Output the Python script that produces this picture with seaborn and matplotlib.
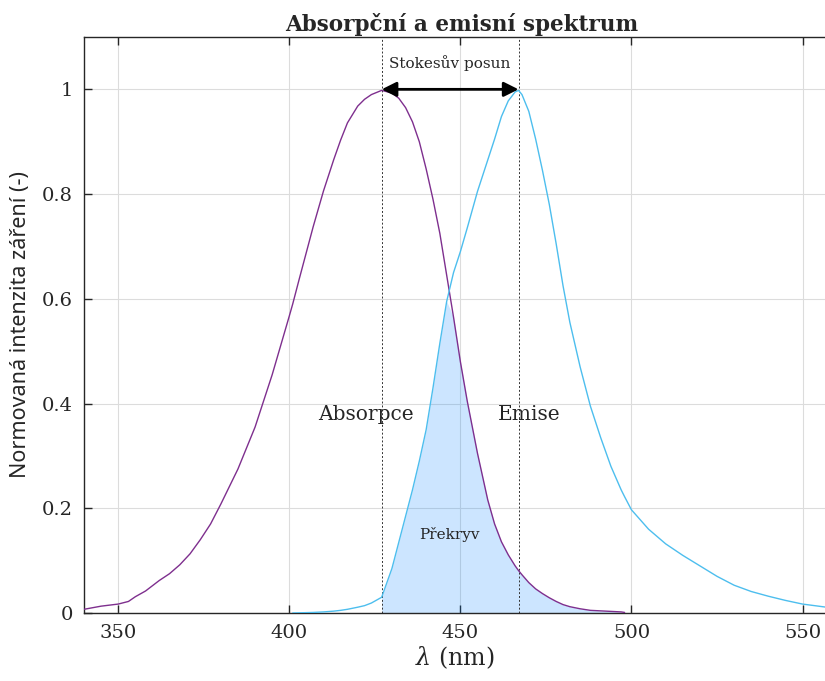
import numpy as np
import pandas as pd
import matplotlib
matplotlib.use("Agg")
import matplotlib.pyplot as plt
import seaborn as sns

# shared wavelength grid (nm); NaN where a curve is not drawn
wavelength = [340, 345, 350, 353, 355, 358, 362, 365, 368, 371,
              374, 377, 380, 385, 390, 395, 400, 401, 403, 407,
              410, 413, 415, 417, 420, 422, 424, 427, 430, 432,
              434, 436, 438, 440, 442, 444, 446, 448, 450, 452,
              455, 458, 460, 462, 464, 466, 467, 468, 470, 472,
              474, 476, 478, 480, 482, 485, 488, 491, 494, 497,
              498, 500, 505, 510, 515, 520, 525, 530, 535, 540,
              545, 550, 557]

absorption = [0.007, 0.013, 0.017, 0.022, 0.031, 0.042, 0.062, 0.075, 0.092, 0.113,
              0.140, 0.170, 0.208, 0.275, 0.355, 0.455, 0.567, 0.590, 0.640, 0.738,
              0.806, 0.866, 0.903, 0.936, 0.968, 0.981, 0.990, 0.998, 0.993, 0.983,
              0.965, 0.938, 0.900, 0.848, 0.790, 0.725, 0.645, 0.565, 0.480, 0.405,
              0.305, 0.216, 0.170, 0.136, 0.111, 0.090, 0.081, 0.073, 0.058, 0.046,
              0.037, 0.029, 0.022, 0.016, 0.012, 0.008, 0.005, 0.004, 0.003, 0.002,
              0.001] + [np.nan] * 12

emission = [np.nan] * 17 + [
              0.0, 0.0003, 0.001, 0.002, 0.0035, 0.005, 0.007, 0.011, 0.014, 0.019,
              0.030, 0.085, 0.135, 0.185, 0.235, 0.290, 0.350, 0.430, 0.515, 0.595,
              0.650, 0.690, 0.735, 0.805, 0.865, 0.905, 0.948, 0.978, 0.995, 0.998,
              0.990, 0.958, 0.905, 0.845, 0.780, 0.705, 0.625, 0.555, 0.470, 0.395,
              0.335, 0.280, 0.235, 0.222, 0.197, 0.160, 0.132, 0.110, 0.090, 0.070,
              0.053, 0.041, 0.032, 0.024, 0.017, 0.011]

peak_abs = 427
peak_em = 467
overlap_end = 498

df = pd.DataFrame({"wl": wavelength, "abs": absorption, "em": emission})

sns.set_style("white")
plt.rcParams["font.family"] = ["DejaVu Serif"]
plt.rcParams["mathtext.fontset"] = "dejavuserif"

fig = plt.figure(figsize=(8.25, 6.81), dpi=100)
ax = fig.add_axes([0.1018, 0.0999, 0.9, 0.8458])

# overlap region
ov = df[(df.wl >= peak_abs) & (df.wl <= overlap_end)]
ax.fill_between(ov.wl, 0, np.minimum(ov["abs"], ov["em"]),
                color="#0080FF", alpha=0.2, linewidth=0, zorder=1)

sns.lineplot(data=df, x="wl", y="abs", color="#7E2F8E", linewidth=1.0, ax=ax, zorder=3)
sns.lineplot(data=df, x="wl", y="em", color="#4DBEEE", linewidth=1.0, ax=ax, zorder=3)

ax.axvline(peak_abs, color="#333333", linestyle=(0, (2, 2)), linewidth=0.7, zorder=2)
ax.axvline(peak_em, color="#333333", linestyle=(0, (2, 2)), linewidth=0.7, zorder=2)

ax.annotate("", xy=(peak_em, 1.0), xytext=(peak_abs, 1.0),
            arrowprops=dict(arrowstyle="<|-|>", color="black", lw=2,
                            mutation_scale=22, shrinkA=0, shrinkB=0), zorder=4)
ax.text((peak_abs + peak_em) / 2, 1.035, "Stokesův posun", ha="center",
        va="bottom", fontsize=11)
ax.text(422.5, 0.379, "Absorpce", ha="center", va="center", fontsize=14.5)
ax.text(470.2, 0.379, "Emise", ha="center", va="center", fontsize=14.5)
ax.text(446.8, 0.149, "Překryv", ha="center", va="center", fontsize=11)

ax.set_xlim(340, 557)
ax.set_ylim(0, 1.1)
ax.set_xticks([350, 400, 450, 500, 550])
ax.set_yticks([0, 0.2, 0.4, 0.6, 0.8, 1.0])
ax.set_yticklabels(["0", "0.2", "0.4", "0.6", "0.8", "1"])
ax.grid(True, color="#dcdcdc", linewidth=0.8)
ax.set_axisbelow(True)
ax.tick_params(direction="in", length=6, width=1, labelsize=14, top=True,
               bottom=True, left=True, right=False, color="#262626",
               labelcolor="#262626", pad=8)
for s in ["left", "bottom", "top"]:
    ax.spines[s].set_color("#262626")
    ax.spines[s].set_linewidth(1)
ax.spines["right"].set_visible(False)

ax.set_xlabel(r"$\lambda$ (nm)", fontsize=17, color="#262626", labelpad=2)
ax.set_ylabel("Normovaná intenzita záření (-)", fontsize=15.5,
              family=["Noto Sans", "DejaVu Sans"], color="#262626", labelpad=8)
ax.set_title("Absorpční a emisní spektrum", fontsize=15.5, fontweight="bold",
             pad=4, x=0.509)

fig.savefig("out.png", dpi=100)
